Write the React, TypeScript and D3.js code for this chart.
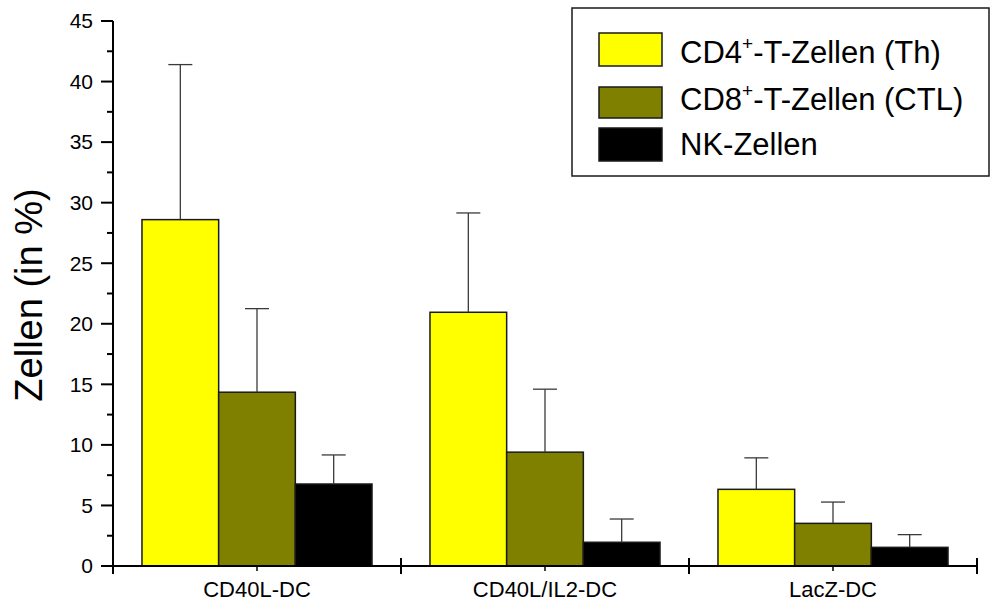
import React from "react";
import * as d3 from "d3";

const categories = ["CD40L-DC", "CD40L/IL2-DC", "LacZ-DC"];
const seriesNames = ["CD4", "CD8", "NK"];
const cd4Values = [28.6, 20.95, 6.33];
const cd4Errors = [12.8, 8.2, 2.6];
const cd8Values = [14.35, 9.4, 3.52];
const cd8Errors = [6.9, 5.2, 1.76];
const nkValues = [6.77, 1.96, 1.54];
const nkErrors = [2.4, 1.92, 1.05];
const yTicks = [0, 5, 10, 15, 20, 25, 30, 35, 40, 45];
const yMinorTicks = [2.5, 7.5, 12.5, 17.5, 22.5, 27.5, 32.5, 37.5, 42.5];
const colors = ["#FFFF00", "#808000", "#000000"];

const W = 991;
const H = 601;
const FONT = "Arial, 'Liberation Sans', Helvetica, sans-serif";

export default function App() {
  const x0 = d3.scaleBand<string>().domain(categories).range([113, 977]).padding(0);
  const x1 = d3
    .scaleBand<string>()
    .domain(seriesNames)
    .range([0, x0.bandwidth()])
    .paddingInner(0)
    .paddingOuter(0.378);
  const y = d3.scaleLinear().domain([0, 45]).range([566, 21]);

  const values = [cd4Values, cd8Values, nkValues];
  const errors = [cd4Errors, cd8Errors, nkErrors];

  const bars: any[] = [];
  categories.forEach((c, ci) => {
    seriesNames.forEach((s, si) => {
      bars.push({ c, s, si, v: values[si][ci], e: errors[si][ci] });
    });
  });

  const capW = 24;

  const legendItems = [
    { main: "CD4", sup: "+", rest: "-T-Zellen (Th)", y0: 33, y1: 66, base: 62.5 },
    { main: "CD8", sup: "+", rest: "-T-Zellen (CTL)", y0: 87, y1: 118, base: 110 },
    { main: "NK-Zellen", sup: "", rest: "", y0: 128, y1: 161, base: 155 },
  ];

  return (
    <svg
      width={W}
      height={H}
      style={{ position: "absolute", left: 0, top: 0, background: "#fff" }}
      fontFamily={FONT}
    >
      <rect x={0} y={0} width={W} height={H} fill="#fff" />
      {/* bars */}
      {bars.map((b, i) => {
        const bx = (x0(b.c) as number) + (x1(b.s) as number);
        const bw = x1.bandwidth();
        return (
          <rect
            key={"b" + i}
            x={bx}
            y={y(b.v)}
            width={bw}
            height={y(0) - y(b.v)}
            fill={colors[b.si]}
            stroke="#1a1a1a"
            strokeWidth={1.5}
          />
        );
      })}
      {/* error bars */}
      {bars.map((b, i) => {
        const cx = (x0(b.c) as number) + (x1(b.s) as number) + x1.bandwidth() / 2;
        return (
          <g key={"e" + i} stroke="#3a3a3a" strokeWidth={1.3}>
            <line x1={cx} x2={cx} y1={y(b.v)} y2={y(b.v + b.e)} />
            <line x1={cx - capW / 2} x2={cx + capW / 2} y1={y(b.v + b.e)} y2={y(b.v + b.e)} />
          </g>
        );
      })}
      {/* y axis */}
      <line x1={113} x2={113} y1={y(45)} y2={573} stroke="#000" strokeWidth={2} />
      {yTicks.map((t) => (
        <g key={"yt" + t}>
          <line x1={101} x2={113} y1={y(t)} y2={y(t)} stroke="#000" strokeWidth={2} />
          <text x={93} y={y(t)} dy="0.35em" textAnchor="end" fontSize={21} fill="#000">
            {t}
          </text>
        </g>
      ))}
      {yMinorTicks.map((t) => (
        <line key={"ym" + t} x1={107} x2={113} y1={y(t)} y2={y(t)} stroke="#000" strokeWidth={2} />
      ))}
      {/* x axis */}
      <line x1={113} x2={978} y1={566} y2={566} stroke="#000" strokeWidth={2} />
      {[...categories.map((c) => x0(c) as number), 977].map((xv, i) => (
        <line key={"xt" + i} x1={xv} x2={xv} y1={558} y2={574} stroke="#000" strokeWidth={2} />
      ))}
      {categories.map((c) => {
        const cx = (x0(c) as number) + x0.bandwidth() / 2;
        return (
          <g key={"xl" + c}>
            <line x1={cx} x2={cx} y1={566} y2={571} stroke="#000" strokeWidth={1.5} />
            <text x={cx} y={597} textAnchor="middle" fontSize={22} fill="#000">
              {c}
            </text>
          </g>
        );
      })}
      {/* y title */}
      <text
        transform={`translate(42, 295) rotate(-90)`}
        textAnchor="middle"
        fontSize={38}
        fill="#000"
      >
        Zellen (in %)
      </text>
      {/* legend */}
      <rect x={572} y={8} width={417} height={168} fill="#fff" stroke="#1a1a1a" strokeWidth={1.5} />
      {legendItems.map((it, i) => (
        <g key={"lg" + i}>
          <rect
            x={599}
            y={it.y0}
            width={63}
            height={it.y1 - it.y0}
            fill={colors[i]}
            stroke="#1a1a1a"
            strokeWidth={1.5}
          />
          <text x={680} y={it.base} fontSize={31} fill="#000">
            {it.main}
            {it.sup ? (
              <tspan fontSize={19} dy={-13}>
                {it.sup}
              </tspan>
            ) : null}
            {it.rest ? <tspan dy={it.sup ? 13 : 0}>{it.rest}</tspan> : null}
          </text>
        </g>
      ))}
    </svg>
  );
}
